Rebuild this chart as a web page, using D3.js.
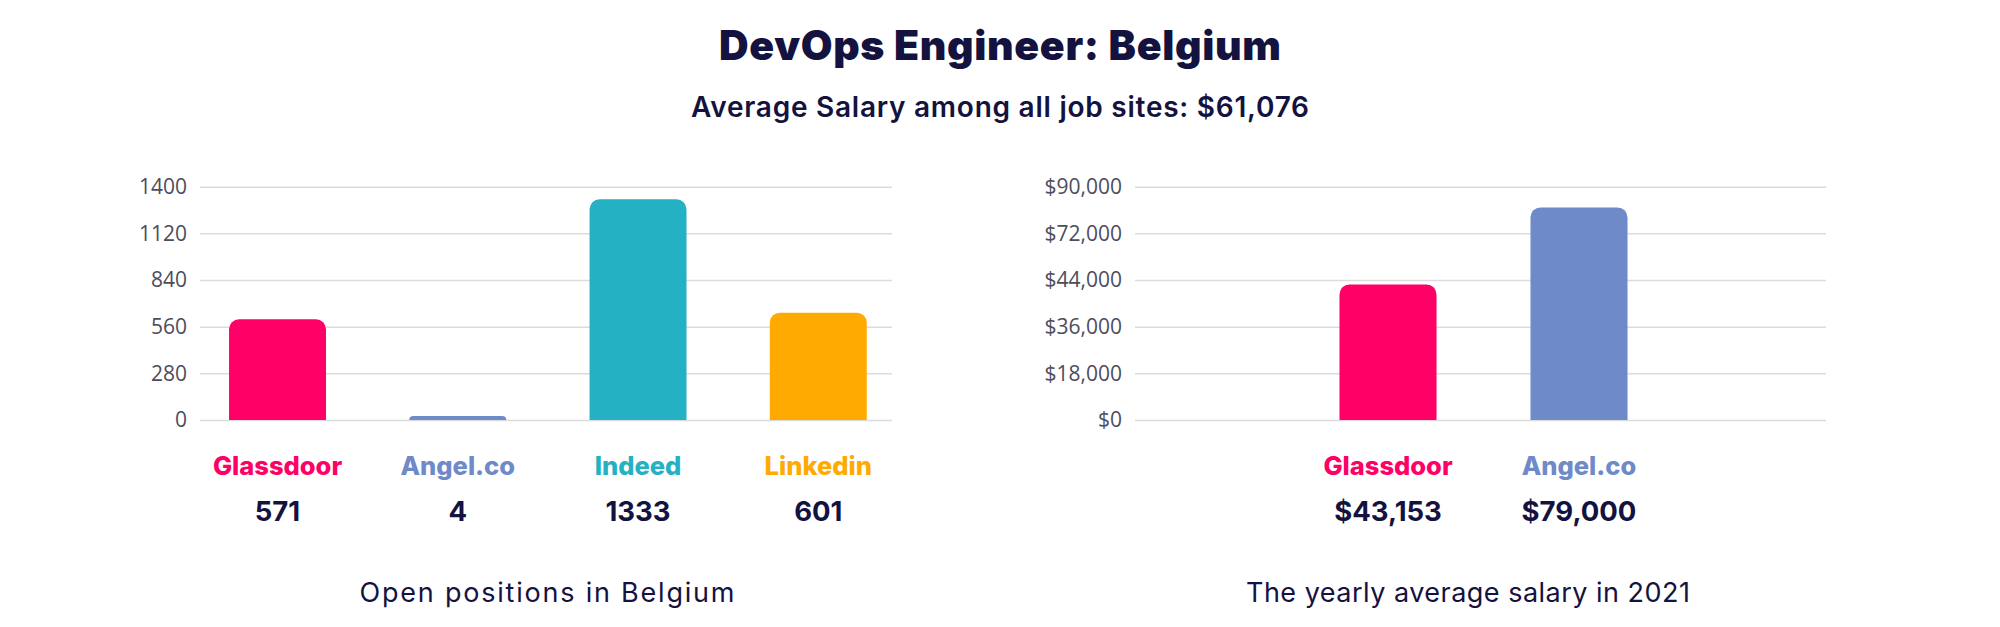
<!DOCTYPE html>
<html><head><meta charset="utf-8">
<script src="https://cdn.jsdelivr.net/npm/d3@7"></script>
<style>body{margin:0;background:#fff}svg{display:block}</style>
</head><body><svg id="c" width="2000" height="627"></svg>
<script>
const titleText = "DevOps Engineer: Belgium";
const subtitleText = "Average Salary among all job sites: $61,076";
const jobSites = ["Glassdoor", "Angel.co", "Indeed", "Linkedin"];
const siteColors = ["#ff0066", "#6f8ac9", "#25b1c4", "#ffaa00"];
const openPositions = [571, 4, 1333, 601];          // value labels
const openPositionBars = [604, 24, 1324, 644];      // bar heights as drawn
const positionTicks = [0, 280, 560, 840, 1120, 1400];
const salarySites = ["Glassdoor", "Angel.co"];
const salaryColors = ["#ff0066", "#6f8ac9"];
const salaryValues = [43153, 79000];                // value labels
const salaryBars = [52300, 82000];                  // bar heights as drawn
const salaryTicks = [0, 18000, 36000, 54000, 72000, 90000];
const salaryTickLabels = ["$0", "$18,000", "$36,000", "$44,000", "$72,000", "$90,000"];
const captions = ["Open positions in Belgium", "The yearly average salary in 2021"];

const navy = "#14123f";
const svg = d3.select("#c");

function fitText(sel, w) {
  sel.attr("textLength", w).attr("lengthAdjust", "spacing");
}

svg.append("text").attr("x", 1000).attr("y", 60).attr("text-anchor", "middle")
  .style("font-family", "Inter").style("font-weight", 900).style("font-size", "41px")
  .attr("fill", navy).text(titleText).call(fitText, 562);
svg.append("text").attr("x", 1000).attr("y", 116.5).attr("text-anchor", "middle")
  .style("font-family", "Inter").style("font-weight", 600).style("font-size", "28px")
  .attr("fill", navy).text(subtitleText).call(fitText, 618);

function topRounded(x, y, w, h, r) {
  r = Math.max(0, Math.min(r, h, w / 2));
  return `M${x},${y + h}V${y + r}A${r},${r} 0 0 1 ${x + r},${y}H${x + w - r}A${r},${r} 0 0 1 ${x + w},${y + r}V${y + h}Z`;
}

function panel(cfg) {
  const g = svg.append("g");
  const y = d3.scaleLinear().domain([0, cfg.ticks[cfg.ticks.length - 1]]).range([420, 186.7]);
  const x = d3.scaleBand().domain(cfg.cats).range(cfg.bandRange)
    .paddingInner(cfg.pad).paddingOuter(cfg.pad / 2);

  const ax = g.append("g").attr("transform", `translate(${cfg.gridX0},0)`)
    .call(d3.axisLeft(y).tickValues(cfg.ticks).tickSize(-(cfg.gridX1 - cfg.gridX0))
      .tickPadding(13).tickFormat(cfg.fmt));
  ax.select(".domain").remove();
  ax.selectAll(".tick line").attr("stroke", "#dcdcdf").attr("stroke-width", 1.5);
  ax.selectAll(".tick text").attr("fill", "#4d4d5c")
    .style("font-family", "'Open Sans'").style("font-size", "21px");

  g.selectAll("path.bar").data(cfg.bars).join("path").attr("class", "bar")
    .attr("d", (d, i) => topRounded(x(cfg.cats[i]), y(d), x.bandwidth(), y(0) - y(d), 10))
    .attr("fill", (d, i) => cfg.colors[i]);

  g.selectAll("text.cat").data(cfg.cats).join("text").attr("class", "cat")
    .attr("x", d => x(d) + x.bandwidth() / 2).attr("y", 475).attr("text-anchor", "middle")
    .style("font-family", "Inter").style("font-weight", 800).style("font-size", "25.5px")
    .attr("fill", (d, i) => cfg.colors[i]).text(d => d);

  g.selectAll("text.val").data(cfg.labels).join("text").attr("class", "val")
    .attr("x", (d, i) => x(cfg.cats[i]) + x.bandwidth() / 2).attr("y", 521).attr("text-anchor", "middle")
    .style("font-family", "Inter").style("font-weight", 700).style("font-size", "27.5px")
    .attr("fill", navy).text(d => d);

  g.append("text").attr("x", cfg.capX).attr("y", 601.5).attr("text-anchor", "middle")
    .style("font-family", "Inter").style("font-weight", 400).style("font-size", "27px")
    .attr("fill", navy).text(cfg.caption).call(fitText, cfg.capW);
}

panel({
  cats: jobSites, colors: siteColors, bars: openPositionBars,
  labels: openPositions.map(String), ticks: positionTicks, fmt: d => d,
  bandRange: [187.4, 908.4], pad: 0.462, gridX0: 200, gridX1: 892,
  capX: 547, capW: 375, caption: captions[0]
});
panel({
  cats: salarySites, colors: salaryColors, bars: salaryBars,
  labels: salaryValues.map(v => "$" + d3.format(",")(v)), ticks: salaryTicks,
  fmt: (d, i) => salaryTickLabels[i],
  bandRange: [1292.5, 1674.5], pad: 0.492, gridX0: 1135, gridX1: 1826,
  capX: 1468, capW: 444, caption: captions[1]
});
</script>
</body></html>
